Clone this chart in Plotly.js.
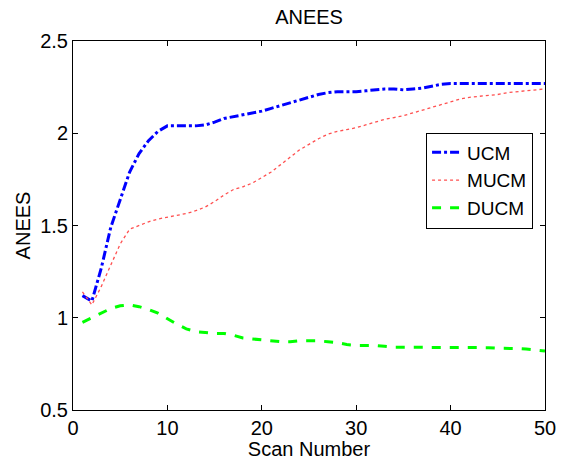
<!DOCTYPE html>
<html>
<head>
<meta charset="utf-8">
<script src="https://cdn.plot.ly/plotly-3.0.1.min.js"></script>
<style>html,body{margin:0;padding:0;background:#fff;}#chart{width:564px;height:460px;}</style>
</head>
<body>
<div id="chart"></div>
<script>
var scans = [];
for (var i = 1; i <= 50; i++) scans.push(i);

var ucm = [1.12, 1.09, 1.27, 1.49, 1.64, 1.79, 1.89, 1.96, 2.01, 2.04,
           2.04, 2.04, 2.04, 2.045, 2.06, 2.08, 2.09, 2.10, 2.11, 2.12,
           2.135, 2.15, 2.165, 2.18, 2.195, 2.21, 2.22, 2.225, 2.225, 2.225,
           2.23, 2.235, 2.24, 2.24, 2.235, 2.24, 2.245, 2.255, 2.265, 2.27,
           2.27, 2.27, 2.27, 2.27, 2.27, 2.27, 2.27, 2.27, 2.27, 2.27];

var mucm = [1.14, 1.07, 1.17, 1.29, 1.40, 1.48, 1.50, 1.52, 1.535, 1.545,
            1.555, 1.565, 1.58, 1.60, 1.63, 1.665, 1.695, 1.71, 1.73, 1.76,
            1.79, 1.83, 1.87, 1.91, 1.94, 1.97, 1.995, 2.01, 2.02, 2.03,
            2.045, 2.06, 2.075, 2.085, 2.095, 2.11, 2.125, 2.14, 2.155, 2.17,
            2.185, 2.195, 2.20, 2.205, 2.21, 2.22, 2.225, 2.23, 2.235, 2.24];

var ducm = [0.975, 1.0, 1.025, 1.05, 1.065, 1.07, 1.06, 1.045, 1.025, 0.995,
            0.965, 0.94, 0.925, 0.92, 0.915, 0.915, 0.905, 0.89, 0.885, 0.88,
            0.875, 0.87, 0.87, 0.875, 0.875, 0.875, 0.87, 0.865, 0.855, 0.85,
            0.85, 0.85, 0.845, 0.84, 0.84, 0.84, 0.84, 0.84, 0.84, 0.84,
            0.84, 0.84, 0.84, 0.838, 0.835, 0.835, 0.833, 0.83, 0.825, 0.82];

var seriesNames = ['UCM', 'MUCM', 'DUCM'];
var xTicks = [0, 10, 20, 30, 40, 50];
var yTicks = [0.5, 1, 1.5, 2, 2.5];
var yTickText = ['0.5', '1', '1.5', '2', '2.5'];

var traces = [
  {x: scans, y: ucm, name: seriesNames[0], mode: 'lines',
   line: {color: '#0000ff', width: 3, dash: 'dashdot'}},
  {x: scans, y: mucm, name: seriesNames[1], mode: 'lines',
   line: {color: '#ff5050', width: 1.3, dash: 'dot'}},
  {x: scans, y: ducm, name: seriesNames[2], mode: 'lines',
   line: {color: '#00ff00', width: 3, dash: 'dash'}}
];

var fontFam = 'Liberation Sans, Arial, Helvetica, sans-serif';
var axisCommon = {
  showgrid: false, zeroline: false, showline: true, linecolor: '#000', linewidth: 1,
  mirror: 'ticks', ticks: 'inside', ticklen: 5, tickcolor: '#000', tickwidth: 1,
  tickfont: {family: fontFam, size: 20, color: '#000'}
};

var layout = {
  width: 564, height: 460,
  margin: {l: 73, r: 19, t: 41, b: 50},
  paper_bgcolor: '#fff', plot_bgcolor: '#fff',
  font: {family: fontFam, color: '#000'},
  title: {text: 'ANEES', font: {family: fontFam, size: 20, color: '#000'}, x: 0.548, xanchor: 'center', y: 0.963, yanchor: 'middle'},
  xaxis: Object.assign({}, axisCommon, {
    range: [0, 50], tickvals: xTicks, ticklabelstandoff: 0,
    title: {text: 'Scan Number', font: {family: fontFam, size: 20, color: '#000'}, standoff: 0}
  }),
  yaxis: Object.assign({}, axisCommon, {
    range: [0.5, 2.5], tickvals: yTicks, ticktext: yTickText,
    title: {text: 'ANEES', font: {family: fontFam, size: 20, color: '#000'}, standoff: 4}
  }),
  showlegend: true,
  legend: {
    x: 0.748, y: 0.752, xanchor: 'left', yanchor: 'top',
    bgcolor: '#fff', bordercolor: '#000', borderwidth: 1,
    font: {family: fontFam, size: 19, color: '#000'},
    itemwidth: 30, tracegroupgap: 0
  }
};

Plotly.newPlot('chart', traces, layout, {displayModeBar: false, staticPlot: true});
</script>
</body>
</html>
